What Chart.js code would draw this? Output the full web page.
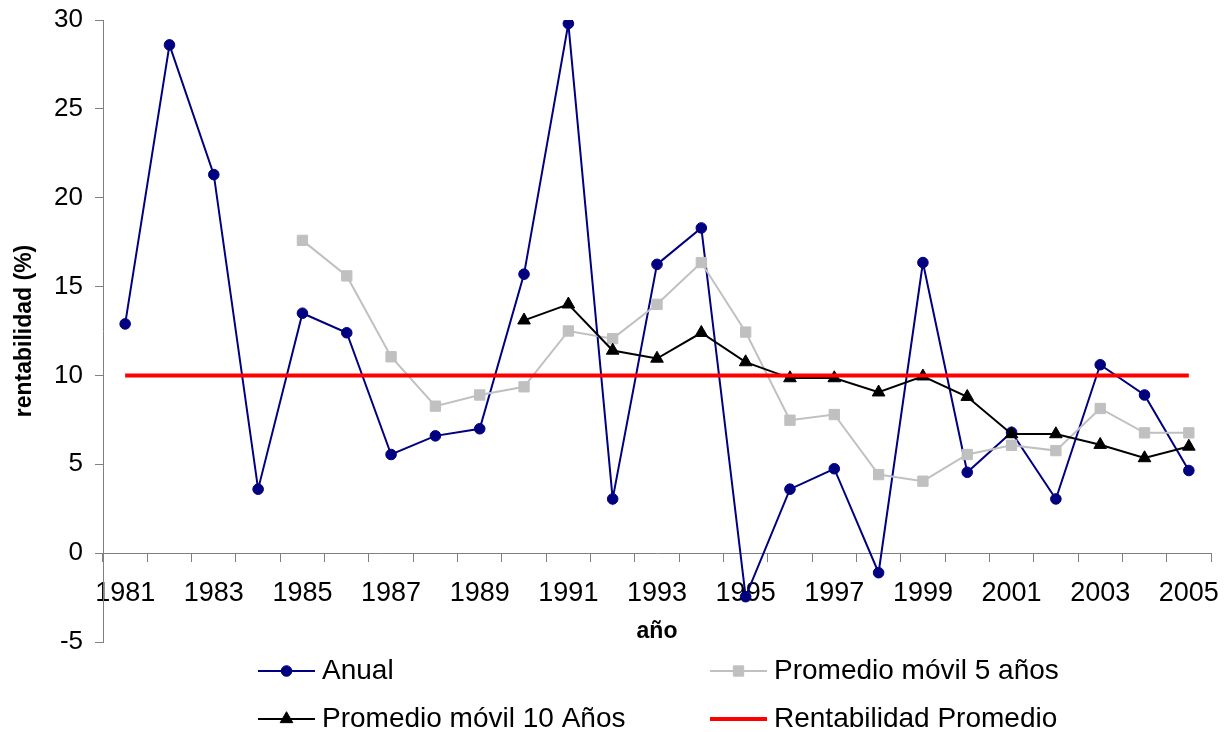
<!DOCTYPE html>
<html>
<head>
<meta charset="utf-8">
<script src="https://cdn.jsdelivr.net/npm/chart.js@4.4.0/dist/chart.umd.min.js"></script>
<style>
html,body{margin:0;padding:0;background:#fff;}
canvas{display:block;}
</style>
</head>
<body>
<canvas id="c" width="1225" height="732" style="width:1225px;height:732px"></canvas>
<script>
// ---- data ----
const years = ['1981','1982','1983','1984','1985','1986','1987','1988','1989','1990','1991','1992','1993','1994','1995','1996','1997','1998','1999','2000','2001','2002','2003','2004','2005'];
const xTickLabels = ['1981','','1983','','1985','','1987','','1989','','1991','','1993','','1995','','1997','','1999','','2001','','2003','','2005'];
const anual = [12.9, 28.6, 21.3, 3.6, 13.5, 12.4, 5.55, 6.6, 7.0, 15.7, 29.8, 3.05, 16.25, 18.3, -2.45, 3.6, 4.75, -1.1, 16.35, 4.55, 6.8, 3.05, 10.6, 8.9, 4.65];
const movil5 = [null, null, null, null, 17.6, 15.6, 11.05, 8.27, 8.9, 9.36, 12.5, 12.07, 14.0, 16.35, 12.44, 7.48, 7.8, 4.42, 4.05, 5.55, 6.07, 5.77, 8.14, 6.77, 6.77];
const movil10 = [null, null, null, null, null, null, null, null, null, 13.1, 14.0, 11.4, 10.95, 12.4, 10.75, 9.85, 9.85, 9.05, 9.95, 8.8, 6.7, 6.7, 6.1, 5.35, 6.0];
const promedio = [10, 10, 10, 10, 10, 10, 10, 10, 10, 10, 10, 10, 10, 10, 10, 10, 10, 10, 10, 10, 10, 10, 10, 10, 10];
const seriesNames = ['Anual', 'Promedio móvil 5 años', 'Promedio móvil 10 Años', 'Rentabilidad Promedio'];
const yMin = -5, yMax = 30, yStep = 5;
const xTitle = 'año';
const yTitle = 'rentabilidad (%)';

const FONT = '"Liberation Sans", Arial, Helvetica, sans-serif';
Chart.defaults.font.family = FONT;
Chart.defaults.color = '#000';

const legendSpots = [[258, 671], [710, 671], [258, 719], [710, 719]];

const fixedLegend = {
  id: 'fixedLegend',
  afterDraw(chart) {
    const ctx = chart.ctx;
    chart.data.datasets.forEach((ds, i) => {
      const [x, y] = legendSpots[i];
      ctx.save();
      ctx.strokeStyle = ds.borderColor;
      ctx.lineWidth = ds.borderWidth;
      ctx.beginPath();
      ctx.moveTo(x, y);
      ctx.lineTo(x + 57, y);
      ctx.stroke();
      if (ds.pointRadius > 0) {
        ctx.fillStyle = ds.pointBackgroundColor;
        ctx.strokeStyle = ds.pointBorderColor;
        ctx.lineWidth = ds.pointBorderWidth;
        if (Chart.helpers && Chart.helpers.drawPoint) {
          Chart.helpers.drawPoint(ctx, {pointStyle: ds.pointStyle, radius: ds.pointRadius, rotation: 0, borderWidth: ds.pointBorderWidth}, x + 28.5, y);
        } else {
          ctx.beginPath(); ctx.arc(x + 28.5, y, ds.pointRadius, 0, Math.PI * 2); ctx.fill();
        }
      }
      ctx.fillStyle = '#000';
      ctx.font = '28px ' + FONT;
      ctx.textBaseline = 'middle';
      ctx.textAlign = 'left';
      ctx.fillText(ds.label, x + 64, y);
      ctx.restore();
    });
  }
};

new Chart(document.getElementById('c'), {
  type: 'line',
  data: {
    labels: years,
    datasets: [
      {
        label: seriesNames[0], data: anual, order: 4,
        borderColor: '#000080', backgroundColor: '#000080', borderWidth: 2,
        pointStyle: 'circle', pointRadius: 5.3, pointBorderWidth: 1,
        pointBackgroundColor: '#000080', pointBorderColor: '#000080', tension: 0
      },
      {
        label: seriesNames[1], data: movil5, order: 3,
        borderColor: '#C0C0C0', backgroundColor: '#C0C0C0', borderWidth: 2,
        pointStyle: 'rect', pointRadius: 7.3, pointBorderWidth: 1,
        pointBackgroundColor: '#C0C0C0', pointBorderColor: '#C0C0C0', tension: 0
      },
      {
        label: seriesNames[2], data: movil10, order: 2,
        borderColor: '#000000', backgroundColor: '#000000', borderWidth: 2,
        pointStyle: 'triangle', pointRadius: 7.3, pointBorderWidth: 1,
        pointBackgroundColor: '#000000', pointBorderColor: '#000000', tension: 0
      },
      {
        label: seriesNames[3], data: promedio, order: 1,
        borderColor: '#FF0000', backgroundColor: '#FF0000', borderWidth: 4,
        pointRadius: 0, pointBorderWidth: 0, tension: 0
      }
    ]
  },
  options: {
    responsive: false,
    animation: false,
    devicePixelRatio: 1,
    events: [],
    layout: { padding: { left: 0, top: 20, right: 14, bottom: 90 } },
    plugins: {
      legend: { display: false },
      tooltip: { enabled: false },
      title: { display: false }
    },
    scales: {
      x: {
        type: 'category',
        position: { y: 0 },
        offset: true,
        grid: { offset: true, drawOnChartArea: false, drawTicks: true, tickLength: 8, color: '#808080', lineWidth: 1 },
        border: { display: true, color: '#808080', width: 1 },
        ticks: {
          autoSkip: false, maxRotation: 0, minRotation: 0, padding: 16,
          font: { size: 27 }, color: '#000',
          callback: (v, i) => xTickLabels[i]
        },
        title: { display: true, text: xTitle, font: { size: 23, weight: 'bold', lineHeight: 1 }, padding: { top: 0, bottom: 0 }, color: '#000' },
        afterFit: (s) => { s.height = 90; s.paddingLeft = 0; s.paddingRight = 0; s.paddingTop = 0; s.paddingBottom = 0; }
      },
      y: {
        min: yMin, max: yMax,
        position: 'left',
        grid: { drawOnChartArea: false, drawTicks: true, tickLength: 8, color: '#808080', lineWidth: 1 },
        border: { display: true, color: '#808080', width: 1 },
        ticks: { stepSize: yStep, padding: 12, font: { size: 26 }, color: '#000' },
        title: { display: true, text: yTitle, font: { size: 23, weight: 'bold' }, padding: { top: 11, bottom: 0 }, color: '#000' },
        afterFit: (s) => { s.width = 103; s.paddingLeft = 0; s.paddingRight = 0; s.paddingTop = 0; s.paddingBottom = 0; }
      }
    }
  },
  plugins: [fixedLegend]
});
</script>
</body>
</html>
